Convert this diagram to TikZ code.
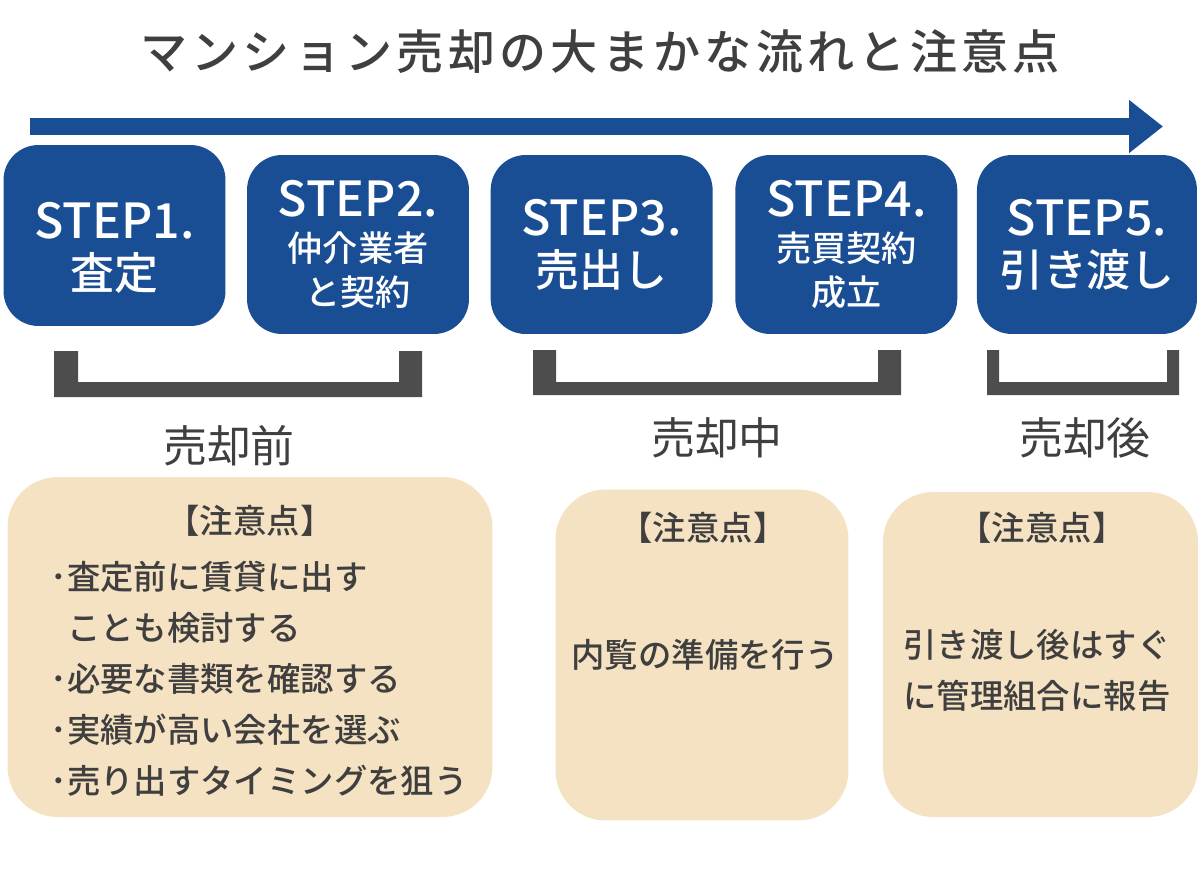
\documentclass[tikz,border=0pt]{standalone}
\usepackage{fontspec}
\setmainfont{Noto Sans CJK JP}[BoldFont={Noto Sans CJK JP Medium}]
\usetikzlibrary{positioning, arrows.meta}
\definecolor{stepblue}{HTML}{1A4E94}
\definecolor{notebeige}{HTML}{F5E2C2}
\definecolor{bracketgray}{HTML}{4D4D4D}
\definecolor{textgray}{HTML}{3F3F3F}
\tikzset{
x=0.02cm, y=-0.02cm, % one unit is one pixel of the layout
stepbox/.style={fill=stepblue, rounded corners=0.7cm, minimum width=4.44cm, minimum height=3.58cm, text=white, align=center, font=\bfseries\fontsize{27.5}{31}\selectfont}, % the blue STEP boxes
notebox/.style={fill=notebeige, rounded corners=1cm, inner sep=0pt}, % the beige boxes below
notetext/.style={text=textgray, font=\bfseries\fontsize{19}{29}\selectfont, inner sep=0pt}, % text in the beige boxes
phase/.style={text=textgray, font=\fontsize{25}{30}\selectfont}, % labels under the brackets
bracket/.style={fill=bracketgray}, % the grey brackets
}

\begin{document}
\begin{tikzpicture}
        \useasboundingbox (0,0) rectangle (1200,876);

        \node[text=textgray, font=\bfseries\addfontfeature{LetterSpace=9}\fontsize{26.8}{30}\selectfont] (title) at (600,52) {マンション売却の大まかな流れと注意点};

        \coordinate (arrowstart) at (30,126.5);
        \coordinate (arrowend) at (1163,126.5);
        \draw[stepblue, line width=0.34cm, -{Triangle[length=0.68cm, width=1.02cm]}] (arrowstart) -- (arrowend);

        \node[stepbox, minimum height=3.62cm] (s1) at (114.5,235.5) {\rule{0pt}{35pt}STEP1.\\[-2pt]\fontsize{25}{31}\selectfont 査定};
        \node[stepbox] (s2) at (358,244.5) {STEP2.\\[-5pt]\fontsize{20}{25}\selectfont 仲介業者\\[-6pt]\fontsize{20}{25}\selectfont と契約};
        \node[stepbox, right=0.42cm of s2] (s3) {STEP3.\\[-2pt]\fontsize{25}{31}\selectfont 売出し};
        \node[stepbox, right=0.44cm of s3] (s4) {STEP4.\\[-5pt]\fontsize{20}{25}\selectfont 売買契約\\[-6pt]\fontsize{20}{25}\selectfont 成立};
        \node[stepbox, right=0.38cm of s4, minimum width=4.4cm] (s5) {STEP5.\\[-2pt]\fontsize{25}{31}\selectfont 引き渡し};

        \fill[bracket] (54,351) -- (54,397) -- (422,397) -- (422,351) -- (399,351) -- (399,382) -- (78,382) -- (78,351) -- cycle;
        \fill[bracket] (533,350) -- (533,395) -- (901,395) -- (901,350) -- (878,350) -- (878,382) -- (556,382) -- (556,350) -- cycle;
        \fill[bracket] (987,350) -- (987,395) -- (1179,395) -- (1179,350) -- (1167,350) -- (1167,382) -- (999,382) -- (999,350) -- cycle;

        \node[phase] (before) at (229,446) {売却前};
        \node[phase] (during) at (717,438) {売却中};
        \node[phase] (after) at (1085,438) {売却後};

        \node[notebox, minimum width=9.7cm, minimum height=6.8cm] (n1) at (250,647) {};
        \node[notebox, minimum width=5.86cm, minimum height=6.62cm] (n2) at (702,655) {};
        \node[notebox, minimum width=6.3cm, minimum height=6.5cm] (n3) at (1040.5,654.5) {};

        \node[notetext] (n1title) at (250,521) {【注意点】};
        \node[notetext] (n2title) at (703,528) {【注意点】};
        \node[notetext] (n3title) at (1042,528) {【注意点】};

        \node[notetext, align=left, anchor=west] (n1list) at (50,679) {･査定前に賃貸に出す\\\phantom{･}ことも検討する\\･必要な書類を確認する\\･実績が高い会社を選ぶ\\･売り出すタイミングを狙う};
        \node[notetext] (n2list) at (705,655) {内覧の準備を行う};
        \node[notetext, align=left, anchor=west] (n3list) at (903,670) {引き渡し後はすぐ\\に管理組合に報告};
      \end{tikzpicture}
\end{document}
